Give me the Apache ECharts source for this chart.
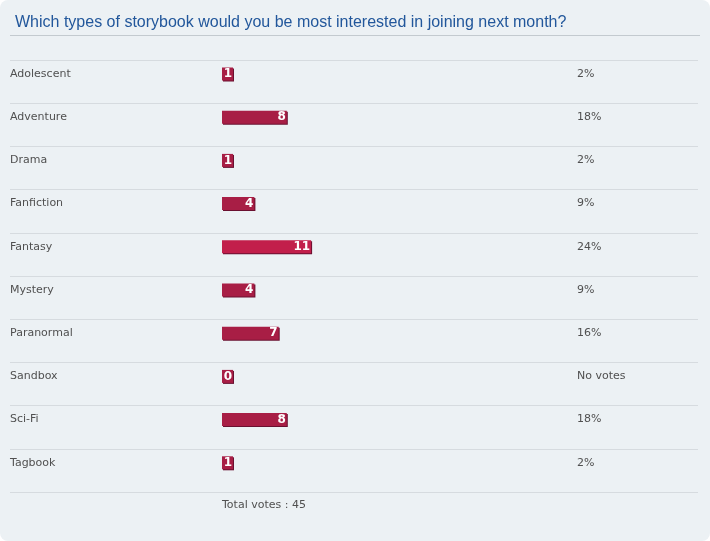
<!DOCTYPE html>
<html>
<head>
<meta charset="utf-8">
<script src="https://cdn.jsdelivr.net/npm/echarts@6/dist/echarts.min.js"></script>
<style>
  html, body { margin: 0; padding: 0; background: #fff; }
  #main { width: 710px; height: 541px; background: #ecf1f4; border-radius: 8px; }
</style>
</head>
<body>
<div id="main"></div>
<script>
// poll data
const categories = ['Adolescent', 'Adventure', 'Drama', 'Fanfiction', 'Fantasy', 'Mystery', 'Paranormal', 'Sandbox', 'Sci-Fi', 'Tagbook'];
const votes = [1, 8, 1, 4, 11, 4, 7, 0, 8, 1];

const total = votes.reduce((a, b) => a + b, 0);
const maxVotes = Math.max(...votes);
// percent column, like the original poll
const pctLabels = votes.map(v => v === 0 ? 'No votes' : Math.round(v / total * 100) + '%');

const txt = '#505050';
const font = 'DejaVu Sans';

let chart = echarts.init(document.getElementById('main'));
chart.setOption({
  backgroundColor: 'transparent',
  title: {
    text: 'Which types of storybook would you be most interested in joining next month?',
    left: 10,
    top: 10,
    textStyle: { color: '#22579b', fontSize: 16, fontWeight: 'normal', fontFamily: 'Liberation Sans' }
  },
  graphic: [
    { type: 'line', shape: { x1: 10, y1: 35.5, x2: 700, y2: 35.5 }, style: { stroke: '#c3cacf', lineWidth: 1 } },
    { type: 'text', left: 222, top: 500, style: { text: 'Total votes : ' + total, fill: txt, font: '11px "DejaVu Sans"' } }
  ],
  grid: [
    // row separators
    { left: 10, right: 12, top: 60, height: 432 },
    // bars
    { left: 222, right: 164, top: 52.4, height: 432 }
  ],
  xAxis: [
    { gridIndex: 0, type: 'value', show: false, min: 0, max: 1, splitLine: { show: false } },
    { gridIndex: 1, type: 'value', show: false, min: 0, max: 40, splitLine: { show: false } }
  ],
  yAxis: [
    {
      gridIndex: 0, type: 'category', inverse: true, data: categories,
      axisLine: { show: false }, axisTick: { show: false }, axisLabel: { show: false },
      splitLine: { show: true, showMinLine: true, showMaxLine: true, lineStyle: { color: '#d6dbdf', width: 1 } }
    },
    {
      gridIndex: 1, type: 'category', inverse: true, data: categories,
      axisLine: { show: false }, axisTick: { show: false }, splitLine: { show: false },
      axisLabel: { margin: 212, align: 'left', color: txt, fontSize: 11, fontFamily: font }
    },
    {
      gridIndex: 1, type: 'category', inverse: true, position: 'right', data: pctLabels,
      axisLine: { show: false }, axisTick: { show: false }, splitLine: { show: false },
      axisLabel: { margin: 31, align: 'left', color: txt, fontSize: 11, fontFamily: font }
    }
  ],
  series: [{
    type: 'bar',
    xAxisIndex: 1,
    yAxisIndex: 1,
    barWidth: 13,
    barMinHeight: 11,
    data: votes.map(v => ({
      value: v,
      itemStyle: { color: v === maxVotes ? '#c21f4b' : '#a81e45' }
    })),
    itemStyle: { shadowColor: '#6a1030', shadowOffsetX: 1, shadowOffsetY: 1, shadowBlur: 0 },
    label: {
      show: true,
      position: 'insideRight',
      distance: 1,
      color: '#fff',
      fontWeight: 'bold',
      fontSize: 12,
      fontFamily: font
    },
    silent: true
  }]
});
</script>
</body>
</html>
